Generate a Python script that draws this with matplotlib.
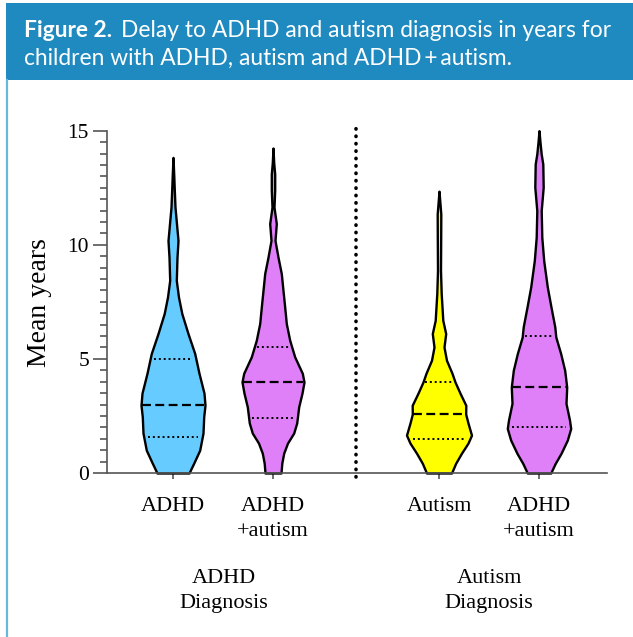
import matplotlib
matplotlib.use('Agg')
import matplotlib.pyplot as plt
import numpy as np
from matplotlib.patches import Rectangle
from matplotlib.lines import Line2D
from matplotlib.ticker import MultipleLocator

# ---------------- data ----------------
categories = ['ADHD', 'ADHD\n+autism', 'Autism', 'ADHD\n+autism']
groups = ['ADHD\nDiagnosis', 'Autism\nDiagnosis']
positions = [1.0, 2.0, 3.66, 4.66]
colors = ['#66ccff', '#e080f8', '#ffff00', '#e080f8']

# violin profiles: years level and half-width (category units)
adhd_levels = [0, 0.43, 1.0, 1.75, 2.46, 2.97, 3.5, 4.37, 5.24, 6.11, 6.99, 7.71, 8.44,
               9.46, 10.19, 11.65, 12.52, 13.0, 13.83]
adhd_widths = [0.16, 0.207, 0.267, 0.30, 0.307, 0.32, 0.31, 0.26, 0.217, 0.15, 0.088,
               0.055, 0.033, 0.04, 0.05, 0.02, 0.012, 0.008, 0.0]

both1_levels = [0, 0.43, 0.87, 1.31, 1.75, 2.19, 2.9, 3.5, 3.99, 4.37, 5.09, 5.82, 6.55,
                7.27, 8.0, 8.74, 9.46, 10.19, 10.93, 11.65, 12.4, 13.1, 13.6, 14.24]
both1_widths = [0.08, 0.088, 0.107, 0.145, 0.207, 0.237, 0.257, 0.29, 0.31, 0.293, 0.217,
                0.167, 0.133, 0.117, 0.10, 0.083, 0.05, 0.02, 0.033, 0.01, 0.017, 0.017,
                0.007, 0.0]

autism_levels = [0, 0.43, 0.87, 1.31, 1.66, 2.19, 2.58, 2.97, 3.5, 3.99, 4.37, 4.94, 5.52,
                 6.11, 6.69, 7.87, 8.88, 10.33, 11.35, 11.8, 12.35]
autism_widths = [0.125, 0.167, 0.225, 0.29, 0.325, 0.29, 0.267, 0.268, 0.21, 0.16, 0.13,
                 0.075, 0.05, 0.067, 0.038, 0.022, 0.015, 0.017, 0.018, 0.01, 0.0]

both2_levels = [0, 0.42, 0.86, 1.44, 1.95, 2.32, 3.05, 3.77, 4.5, 5.23, 5.96, 6.4, 7.27,
                8.15, 9.31, 10.33, 11.5, 12.52, 13.54, 13.98, 14.5, 15.0]
both2_widths = [0.117, 0.162, 0.22, 0.283, 0.317, 0.305, 0.27, 0.277, 0.257, 0.217, 0.168,
                0.158, 0.12, 0.083, 0.047, 0.028, 0.022, 0.042, 0.038, 0.022, 0.01, 0.0]

q1_values = [1.56, 2.42, 1.5, 2.0]
median_values = [3.0, 4.0, 2.6, 3.75]
q3_values = [5.0, 5.5, 4.0, 6.0]

y_ticks = [0, 5, 10, 15]

profiles = [(adhd_levels, adhd_widths), (both1_levels, both1_widths),
            (autism_levels, autism_widths), (both2_levels, both2_widths)]

# ---------------- figure ----------------
W, H = 633, 637
fig = plt.figure(figsize=(W / 100, H / 100), dpi=100)


def fx(px):
    return px / W


def fy(py):
    return 1 - py / H


# header band and left border
fig.patches.append(Rectangle((fx(6), fy(80)), 1 - fx(6), fy(3) - fy(80),
                             transform=fig.transFigure, facecolor='#1f8ac0',
                             edgecolor='none', zorder=0))
fig.add_artist(Line2D([fx(7), fx(7)], [0, fy(80)], transform=fig.transFigure,
                      color='#6ab7dc', lw=1.6))

title_font = ['Lato', 'DejaVu Sans']
tsize = 16.4
t_bold = fig.text(fx(24), fy(37), 'Figure 2.', color='white', fontsize=tsize,
                  fontweight='bold', family=title_font, va='baseline', ha='left')
fig.canvas.draw()
r = fig.canvas.get_renderer()
bb = t_bold.get_window_extent(renderer=r)
fig.text(bb.x1 / W + fx(9), fy(37), 'Delay to ADHD and autism diagnosis in years for',
         color='white', fontsize=tsize, family=title_font, va='baseline', ha='left')
fig.text(fx(24), fy(65), 'children with ADHD, autism and ADHD\u2009+\u2009autism.',
         color='white', fontsize=tsize, family=title_font, va='baseline', ha='left')

# ---------------- axes ----------------
serif = ['Liberation Serif', 'DejaVu Serif']
ax = fig.add_axes([fx(107), fy(473), fx(607) - fx(107), fy(130.7) - fy(473)])
ax.set_xlim(0.34, 5.34)
ax.set_ylim(0, 15)

for p, (lv, wd), c, q1, med, q3 in zip(positions, profiles, colors,
                                       q1_values, median_values, q3_values):
    y = np.array(lv)
    w = np.array(wd)
    ax.fill_betweenx(y, p - w, p + w, facecolor=c, edgecolor='black', lw=1.7,
                     zorder=2, clip_on=False)
    hw = np.interp(med, y, w) * 0.97
    ax.plot([p - hw, p + hw], [med, med], color='black', lw=1.6,
            ls=(0, (4, 2)), zorder=3)
    for q in (q1, q3):
        hq = np.interp(q, y, w) * 0.85
        ax.plot([p - hq, p + hq], [q, q], color='black', lw=1.4,
                ls=(0, (1, 1.5)), zorder=3)

# separator
ax.plot([2.83, 2.83], [-0.17, 15.15], color='black', lw=2.6, ls=(0, (0.1, 1.95)),
        dash_capstyle='round', clip_on=False, zorder=4)

for s in ('top', 'right'):
    ax.spines[s].set_visible(False)
for s in ('left', 'bottom'):
    ax.spines[s].set_color('#555555')
    ax.spines[s].set_linewidth(1.2)

ax.set_yticks(y_ticks)
ax.set_yticklabels([str(v) for v in y_ticks], family=serif, fontsize=15.5)
ax.yaxis.set_minor_locator(MultipleLocator(0.5))
ax.tick_params(axis='y', which='major', length=10, width=1.2, color='#555555', pad=3)
ax.tick_params(axis='y', which='minor', length=5, width=1.2, color='#555555')
ax.set_xticks(positions)
ax.set_xticklabels(categories, family=serif, fontsize=16, linespacing=1.45)
ax.tick_params(axis='x', length=4, width=1.2, color='#555555', pad=13)

fig.text(fx(40), fy(303), 'Mean years', rotation=90, family=serif, fontsize=20,
         ha='center', va='center')
fig.text(fx(224), fy(591), groups[0], family=serif, fontsize=16, ha='center',
         va='center', linespacing=1.45)
fig.text(fx(489), fy(591), groups[1], family=serif, fontsize=16, ha='center',
         va='center', linespacing=1.45)

fig.savefig('out.png', dpi=100)
